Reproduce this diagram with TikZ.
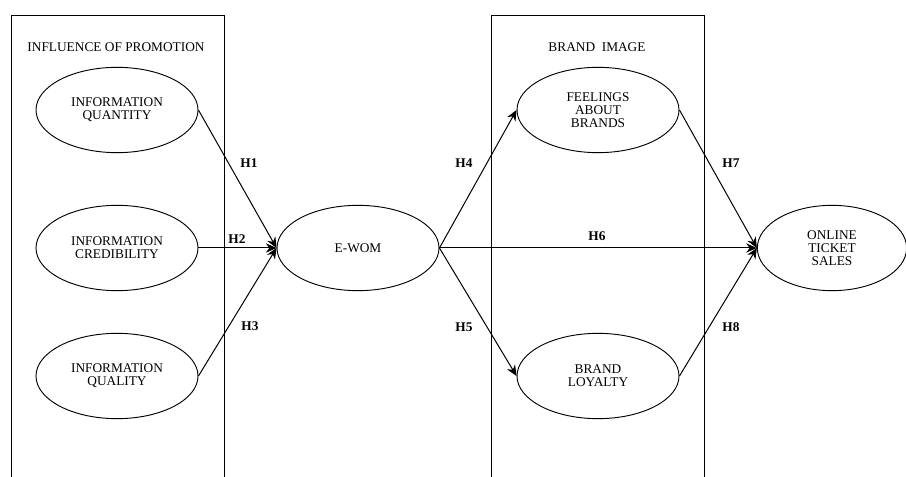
\documentclass[tikz,border=0pt]{standalone}
\usepackage{fontspec}
\setmainfont{Liberation Serif}
\usetikzlibrary{arrows.meta, shapes.geometric}

\begin{document}
\begin{tikzpicture}[
    x=0.75pt, y=0.75pt,
    every node/.style={font=\fontsize{10}{9.8}\selectfont},
    var/.style={ellipse, draw=black, line width=0.7pt, inner sep=0pt,
        minimum width=121.5pt, minimum height=64pt, align=center,
        font=\fontsize{10}{9.8}\selectfont},
    hyp/.style={font=\fontsize{10}{9.8}\selectfont\bfseries},
    grp/.style={draw=black, line width=0.6pt},
    hyparrow/.style={-{Stealth[length=8pt,width=7pt]}, line width=0.75pt},
]
\useasboundingbox (0,0) rectangle (906,-477);

% ====== GROUP BOXES ======
\draw[grp] (11,-477) |- (224,-15) -- (224,-477);
\draw[grp] (491,-477) |- (704,-15) -- (704,-477);
\node (t-promo) at (116,-47) {INFLUENCE OF PROMOTION};
\node (t-brand) at (597,-47) {BRAND\ \ IMAGE};

% ====== VARIABLES ======
\node[var] (iq)   at (117,-110) {INFORMATION\\QUANTITY};
\node[var] (ic)   at (117,-248) {INFORMATION\\CREDIBILITY};
\node[var] (iql)  at (117,-376) {INFORMATION\\QUALITY};
\node[var] (ewom) at (358,-248) {E-WOM};
\node[var] (fab)  at (598,-110) {FEELINGS\\ABOUT\\BRANDS};
\node[var] (bl)   at (598,-376) {BRAND\\LOYALTY};
\node[var, minimum width=112pt] (ots) at (832,-248) {ONLINE\\TICKET\\SALES};

% ====== HYPOTHESES ======
\foreach \a/\b in {iq/ewom, ic/ewom, iql/ewom, fab/ots, bl/ots}
    \draw[hyparrow] (\a.east) -- (\b.west);
\foreach \b in {fab, ots, bl}
    \draw[hyparrow] (ewom.east) -- (\b.west);

\node[hyp] (h1) at (249,-163) {H1};
\node[hyp] (h2) at (237,-239) {H2};
\node[hyp] (h3) at (250,-326) {H3};
\node[hyp] (h4) at (464,-163) {H4};
\node[hyp] (h5) at (464,-327) {H5};
\node[hyp] (h6) at (597,-236) {H6};
\node[hyp] (h7) at (731,-163) {H7};
\node[hyp] (h8) at (731,-327) {H8};

\end{tikzpicture}
\end{document}
